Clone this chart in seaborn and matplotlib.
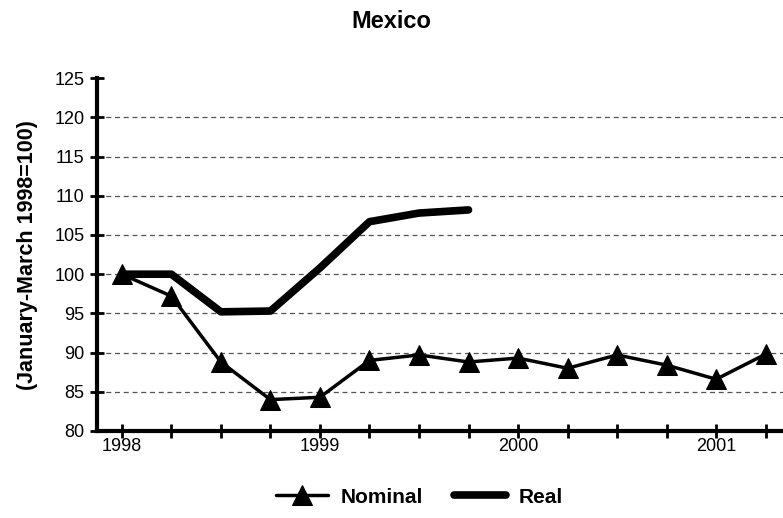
import numpy as np
import pandas as pd
import seaborn as sns
import matplotlib.pyplot as plt

# quarterly index, Jan-Mar 1998 = 100
quarters = list(range(14))
nominal = [100.0, 97.2, 88.8, 84.0, 84.3, 89.0, 89.7, 88.8, 89.3, 88.0, 89.7, 88.4, 86.6, 89.8]
real = [100.0, 100.0, 95.2, 95.3, 100.8, 106.7, 107.8, 108.2]
year_pos = [0, 4, 8, 12]
year_labels = ['1998', '1999', '2000', '2001']
grid_vals = [85, 90, 95, 100, 105, 110, 115, 120]

df_nom = pd.DataFrame({'q': quarters, 'value': nominal})
df_real = pd.DataFrame({'q': quarters[:len(real)], 'value': real})

sns.set_style('white')
plt.rcParams['font.family'] = ['Liberation Sans', 'DejaVu Sans']
plt.rcParams['text.color'] = 'black'
plt.rcParams['axes.labelcolor'] = 'black'
plt.rcParams['xtick.color'] = 'black'
plt.rcParams['ytick.color'] = 'black'

fig = plt.figure(figsize=(7.83, 5.18), dpi=100)
ax = fig.add_axes([0.124, 0.168, 0.876, 0.681])

for v in grid_vals:
    ax.axhline(v, color='#555555', lw=0.9, ls=(0, (4, 3)), zorder=0)

sns.lineplot(data=df_nom, x='q', y='value', ax=ax, color='black', lw=2.5,
             marker='^', markersize=14, markeredgecolor='black', label='Nominal')
sns.lineplot(data=df_real, x='q', y='value', ax=ax, color='black', lw=5.5,
             solid_capstyle='round', label='Real')

ax.set_xlim(-0.5, 13.35)
ax.set_ylim(80, 125)
ax.set_yticks(range(80, 126, 5))
ax.set_xticks(quarters, minor=True)
ax.set_xticks(year_pos)
ax.set_xticklabels(year_labels)
ax.tick_params(axis='both', which='both', direction='inout', length=10, width=2,
               color='black', labelsize=13, bottom=True, left=True)
ax.tick_params(axis='x', which='major', pad=0)
ax.tick_params(axis='y', which='major', pad=4)

for s in ['top', 'right']:
    ax.spines[s].set_visible(False)
for s in ['left', 'bottom']:
    ax.spines[s].set_linewidth(3)
    ax.spines[s].set_color('black')

ax.set_xlabel('')
ax.set_ylabel('(January-March 1998=100)', fontsize=15.5, fontweight='bold', labelpad=12)
fig.suptitle('Mexico', fontsize=17, fontweight='bold', y=0.98, x=0.5)

handles, labels = ax.get_legend_handles_labels()
ax.get_legend().remove()
fig.legend(handles, labels, loc='center', bbox_to_anchor=(0.536, 0.04), ncol=2,
           frameon=False, prop={'weight': 'bold', 'size': 15}, handlelength=2.5,
           columnspacing=1.5, handletextpad=0.6)

fig.savefig('out.png', dpi=100)
